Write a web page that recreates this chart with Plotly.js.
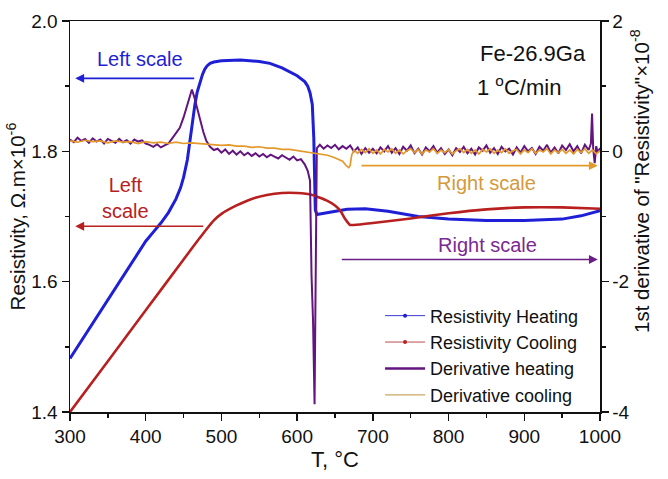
<!DOCTYPE html>
<html><head><meta charset="utf-8">
<script src="https://cdn.plot.ly/plotly-3.0.1.min.js"></script>
<style>html,body{margin:0;padding:0;background:#fff}#chart{width:668px;height:479px}</style>
</head><body><div id="chart"></div>
<script>
// Resistivity heating (left scale, Ohm.m x1e-6)
const heatT = [300,350,400,410,420,430,440,446,450,455,458,462,465,468,472,475,478,481,485,490,500,525,550,564,580,600,610,614,617,620,622,623,624,626,635,650,666,690,720,760,800,850,900,950,975,1000];
const heatR = [1.482,1.573,1.662,1.676,1.690,1.706,1.727,1.744,1.760,1.787,1.813,1.848,1.872,1.891,1.908,1.918,1.926,1.931,1.935,1.937,1.939,1.940,1.938,1.935,1.928,1.916,1.907,1.900,1.890,1.872,1.820,1.760,1.710,1.703,1.705,1.708,1.711,1.712,1.708,1.700,1.696,1.694,1.694,1.696,1.701,1.709];
// Resistivity cooling (left scale)
const coolT = [300,350,400,450,470,480,490,500,520,540,560,580,600,620,640,650,657,663,670,675,700,750,800,850,900,950,1000];
const coolR = [1.400,1.478,1.556,1.634,1.665,1.680,1.694,1.704,1.717,1.727,1.733,1.736,1.736,1.733,1.724,1.717,1.709,1.697,1.687,1.687,1.690,1.697,1.705,1.711,1.714,1.714,1.712];
// Derivative heating (right scale, x1e-8)
const dHeatT = [300,305,310,315,320,325,330,335,340,345,350,355,360,365,370,375,380,385,390,395,400,405,410,415,420,425,430,435,440,445,450,455,458,461,464,468,472,476,480,485,490,495,500,505,510,515,520,525,530,535,540,545,550,555,560,565,570,575,580,585,590,595,600,605,610,614,617,619,621,623,624.5,626,630,635,640,645,650,655,660,665,670,675,680,685,690,695,700,705,710,715,720,725,730,735,740,745,750,755,760,765,770,775,780,785,790,795,800,805,810,815,820,825,830,835,840,845,850,855,860,865,870,875,880,885,890,895,900,905,910,915,920,925,930,935,940,945,950,955,960,965,970,975,980,985,988,989.5,991,993,995,997,1000];
const dHeat = [0.18,0.14,0.21,0.16,0.19,0.13,0.20,0.15,0.18,0.12,0.19,0.16,0.13,0.19,0.14,0.17,0.12,0.18,0.15,0.17,0.12,0.10,0.07,0.11,0.06,0.09,0.12,0.20,0.28,0.36,0.52,0.72,0.86,0.95,0.84,0.65,0.47,0.30,0.16,0.07,0.02,0.04,-0.02,0.03,-0.04,0.01,-0.05,0.00,-0.06,-0.02,-0.07,-0.03,-0.08,-0.04,-0.09,-0.05,-0.08,-0.11,-0.06,-0.10,-0.13,-0.08,-0.14,-0.12,-0.20,-0.30,-0.45,-1.90,-2.60,-3.88,-1.00,0.05,0.10,0.04,0.09,0.05,0.10,0.03,0.08,0.04,0.09,0.00,0.06,-0.04,0.05,-0.02,0.04,-0.03,0.06,0.00,0.08,-0.02,0.05,-0.04,0.07,0.01,0.09,-0.03,0.04,-0.05,0.06,0.00,0.08,-0.02,0.05,-0.04,0.03,-0.06,0.05,-0.01,0.07,-0.03,0.04,-0.05,0.06,0.01,0.09,-0.02,0.05,-0.04,0.07,0.00,0.04,-0.05,0.06,-0.02,0.08,0.00,0.05,-0.04,0.07,0.01,0.10,-0.02,0.06,-0.03,0.09,0.02,0.11,0.00,0.08,-0.03,0.10,0.02,0.12,0.58,0.04,-0.18,0.08,-0.02,0.05];
// Derivative cooling (right scale)
const dCoolT = [300,310,320,330,340,350,360,370,380,390,400,410,420,430,440,450,460,470,480,490,500,510,520,530,540,550,560,570,580,590,600,610,620,630,640,648,655,660,665,668,670,672,675,680,685,690,695,700,705,710,715,720,725,730,735,740,745,750,755,760,765,770,775,780,785,790,795,800,805,810,815,820,825,830,835,840,845,850,855,860,865,870,875,880,885,890,895,900,905,910,915,920,925,930,935,940,945,950,955,960,965,970,975,980,985,990,995,1000];
const dCool = [0.16,0.14,0.17,0.15,0.16,0.13,0.16,0.14,0.15,0.12,0.15,0.13,0.14,0.12,0.14,0.12,0.13,0.12,0.11,0.11,0.09,0.10,0.08,0.08,0.06,0.07,0.05,0.05,0.03,0.03,0.01,-0.01,-0.03,-0.04,-0.06,-0.09,-0.12,-0.15,-0.22,-0.25,-0.22,-0.06,0.02,-0.03,0.03,-0.02,0.04,-0.03,0.02,-0.04,0.03,-0.01,0.04,-0.03,0.02,-0.04,0.01,0.04,-0.02,0.03,-0.04,0.02,-0.01,0.04,-0.03,0.02,-0.02,0.03,-0.04,0.01,0.04,-0.02,0.03,-0.03,0.02,-0.04,0.03,-0.01,0.04,-0.03,0.02,-0.02,0.04,-0.03,0.01,0.03,-0.04,0.02,-0.02,0.04,-0.03,0.02,-0.01,0.04,-0.04,0.02,-0.02,0.03,-0.03,0.02,-0.04,0.03,-0.02,0.04,-0.03,0.02,-0.04,0.01];
// Tick labels
const xTicks = [300,400,500,600,700,800,900,1000];
const yTicks = [1.4,1.6,1.8,2.0];
const yTickText = ['1.4','1.6','1.8','2.0'];
const y2Ticks = [-4,-2,0,2];
const y2TickText = ['-4','-2','0','2'];

const names = ['Resistivity Heating','Resistivity Cooling','Derivative heating','Derivative cooling'];
const cBlue = '#1f1fd6', cRed = '#b8201f', cPurple = '#63157f', cOrange = '#e39a2a';
const cOrangeLeg = '#c9a860';

const traces = [
  {x: dHeatT, y: dHeat, yaxis: 'y2', mode: 'lines', line: {color: cPurple, width: 2}, showlegend: false},
  {x: dCoolT, y: dCool, yaxis: 'y2', mode: 'lines', line: {color: cOrange, width: 1.7}, showlegend: false},
  {x: heatT, y: heatR, mode: 'lines', line: {color: cBlue, width: 3}, showlegend: false},
  {x: coolT, y: coolR, mode: 'lines', line: {color: cRed, width: 2.6, shape: 'spline', smoothing: 0.4}, showlegend: false},
  {x: [null], y: [null], name: names[0], mode: 'lines+markers', line: {color: '#3a3ad0', width: 1}, marker: {color: cBlue, size: 4}},
  {x: [null], y: [null], name: names[1], mode: 'lines+markers', line: {color: '#b85050', width: 1}, marker: {color: cRed, size: 4}},
  {x: [null], y: [null], name: names[2], mode: 'lines', line: {color: cPurple, width: 2.5}},
  {x: [null], y: [null], name: names[3], mode: 'lines', line: {color: cOrangeLeg, width: 1.2}}
];

const fam = '"Liberation Sans", Arial, sans-serif';
const tickF = {family: fam, size: 19, color: '#111'};
const titleF = {family: fam, size: 20.5, color: '#111'};
const axisCommon = {
  showgrid: false, zeroline: false, showline: true, linecolor: '#111', linewidth: 1.5,
  ticks: 'outside', ticklen: 7, tickwidth: 1.5, tickcolor: '#111', tickfont: tickF, tickmode: 'array'
};

function arrow(x, y, ax, ay, yref, color) {
  return {x: x, y: y, ax: ax, ay: ay, xref: 'x', yref: yref, axref: 'x', ayref: yref,
    text: '', showarrow: true, arrowhead: 2, arrowsize: 1.1, arrowwidth: 1.6, arrowcolor: color};
}
function label(x, y, yref, text, color) {
  return {x: x, y: y, xref: 'x', yref: yref, text: text, showarrow: false,
    font: {family: fam, size: 20, color: color}};
}

const layout = {
  width: 668, height: 479,
  margin: {l: 70, r: 68, t: 21, b: 67},
  paper_bgcolor: '#fff', plot_bgcolor: '#fff',
  font: {family: fam, size: 18, color: '#111'},
  xaxis: Object.assign({}, axisCommon, {range: [300, 1000], tickvals: xTicks, mirror: true,
    minor: {dtick: 50, ticks: 'outside', ticklen: 4, tickwidth: 1.5, tickcolor: '#111'},
    title: {text: 'T, °C', font: {family: fam, size: 22, color: '#111'}, standoff: 4}}),
  yaxis: Object.assign({}, axisCommon, {range: [1.4, 2.0], tickvals: yTicks, ticktext: yTickText,
    minor: {tickmode: 'linear', tick0: 1.4, dtick: 0.1, ticks: 'outside', ticklen: 4, tickwidth: 1.5, tickcolor: '#111'},
    title: {text: 'Resistivity, Ω.m×10<sup>-6</sup>', font: titleF, standoff: 0}}),
  yaxis2: Object.assign({}, axisCommon, {range: [-4, 2], tickvals: y2Ticks, ticktext: y2TickText, overlaying: 'y', side: 'right',
    minor: {tickmode: 'linear', tick0: -4, dtick: 1, ticks: 'outside', ticklen: 4, tickwidth: 1.5, tickcolor: '#111'}}),
  legend: {x: 0.585, y: 0.293, xanchor: 'left', yanchor: 'top', bgcolor: 'rgba(0,0,0,0)',
    font: {family: fam, size: 18, color: '#111'}, tracegroupgap: 0, itemwidth: 40},
  annotations: [
    label(392, 1.941, 'y', 'Left scale', cBlue),
    arrow(307, 1.912, 466, 1.912, 'y', cBlue),
    label(373, 1.728, 'y', 'Left<br>scale', cRed),
    arrow(307, 1.685, 478, 1.685, 'y', cRed),
    label(850, -0.49, 'y2', 'Right scale', '#d49a3c'),
    arrow(997, -0.22, 683, -0.22, 'y2', cOrange),
    label(852, -1.44, 'y2', 'Right scale', '#7a2a92'),
    arrow(997, -1.66, 657, -1.66, 'y2', '#6a1f86'),
    {x: 0.977, y: 0.918, xref: 'paper', yref: 'paper', xanchor: 'right', yanchor: 'middle', showarrow: false,
      text: 'Fe-26.9Ga', font: {family: fam, size: 22, color: '#111'}},
    {x: 0.764, y: 0.835, xref: 'paper', yref: 'paper', xanchor: 'left', yanchor: 'middle', showarrow: false,
      text: '1 <sup>o</sup>C/min', font: {family: fam, size: 22, color: '#111'}},
    {x: 1.0755, y: 0.591, xref: 'paper', yref: 'paper', xanchor: 'center', yanchor: 'middle', showarrow: false,
      textangle: -90, text: '1st derivative of "Resistivity"×10<sup>-8</sup>', font: titleF}
  ]
};

Plotly.newPlot('chart', traces, layout, {staticPlot: true, displayModeBar: false});
</script></body></html>
